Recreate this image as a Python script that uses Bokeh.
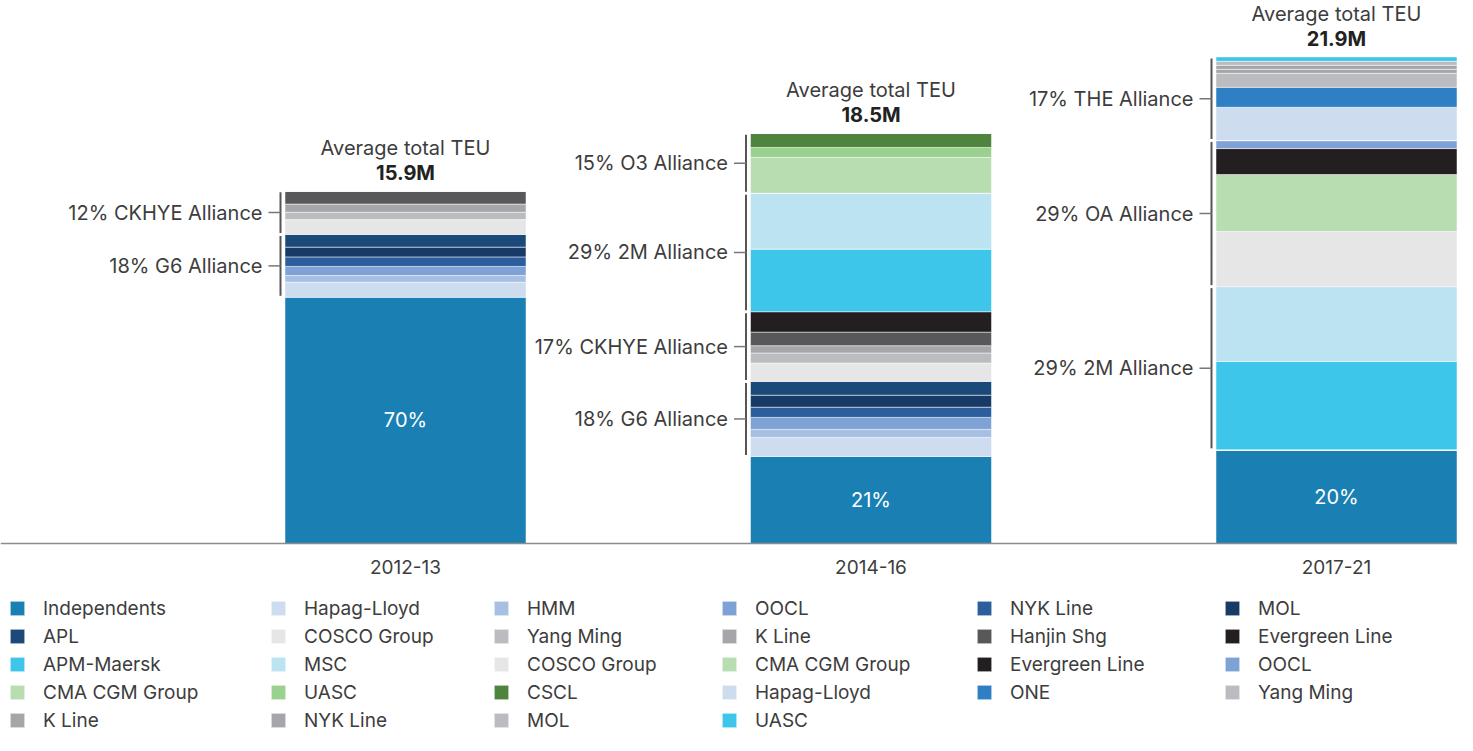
import numpy as np
from bokeh.plotting import figure
from bokeh.models import ColumnDataSource, Range1d, FixedTicker, Legend, LegendItem
from bokeh.core.properties import value
from bokeh.embed import file_html
from bokeh.resources import INLINE

# ---------------- data (million TEU) ----------------
periods = ["2012-13", "2014-16", "2017-21"]
total_labels = ["15.9M", "18.5M", "21.9M"]
independent_labels = ["70%", "21%", "20%"]

independents = [11.09, 3.92, 4.22]
# G6 Alliance
g6_hapag = [0.68, 0.86, 0.0]
g6_hmm = [0.30, 0.36, 0.0]
g6_oocl = [0.41, 0.54, 0.0]
g6_nyk = [0.43, 0.46, 0.0]
g6_mol = [0.44, 0.54, 0.0]
g6_apl = [0.57, 0.62, 0.0]
# CKHYE Alliance
ck_cosco = [0.67, 0.83, 0.0]
ck_yangming = [0.33, 0.45, 0.0]
ck_kline = [0.37, 0.33, 0.0]
ck_hanjin = [0.60, 0.61, 0.0]
ck_evergreen = [0.0, 0.92, 0.0]
# 2M Alliance
m2_maersk = [0.0, 2.82, 3.98]
m2_msc = [0.0, 2.52, 3.37]
# OA Alliance
oa_cosco = [0.0, 0.0, 2.48]
oa_cma = [0.0, 0.0, 2.57]
oa_evergreen = [0.0, 0.0, 1.17]
oa_oocl = [0.0, 0.0, 0.36]
# O3 Alliance
o3_cma = [0.0, 1.61, 0.0]
o3_uasc = [0.0, 0.45, 0.0]
o3_cscl = [0.0, 0.64, 0.0]
# THE Alliance
the_hapag = [0.0, 0.0, 1.50]
the_one = [0.0, 0.0, 0.90]
the_yangming = [0.0, 0.0, 0.63]
the_kline = [0.0, 0.0, 0.18]
the_nyk = [0.0, 0.0, 0.18]
the_mol = [0.0, 0.0, 0.18]
the_uasc = [0.0, 0.0, 0.20]

series_names = ["Independents", "Hapag-Lloyd", "HMM", "OOCL", "NYK Line", "MOL", "APL",
                "COSCO Group", "Yang Ming", "K Line", "Hanjin Shg", "Evergreen Line",
                "APM-Maersk", "MSC",
                "COSCO Group", "CMA CGM Group", "Evergreen Line", "OOCL",
                "CMA CGM Group", "UASC", "CSCL",
                "Hapag-Lloyd", "ONE", "Yang Ming", "K Line", "NYK Line", "MOL", "UASC"]
series_groups = (["Independents"] + ["G6"] * 6 + ["CKHYE"] * 5 + ["2M"] * 2 +
                 ["OA"] * 4 + ["O3"] * 3 + ["THE"] * 7)
series_values = [independents, g6_hapag, g6_hmm, g6_oocl, g6_nyk, g6_mol, g6_apl,
                 ck_cosco, ck_yangming, ck_kline, ck_hanjin, ck_evergreen,
                 m2_maersk, m2_msc,
                 oa_cosco, oa_cma, oa_evergreen, oa_oocl,
                 o3_cma, o3_uasc, o3_cscl,
                 the_hapag, the_one, the_yangming, the_kline, the_nyk, the_mol, the_uasc]

alliance_period = [0, 0, 1, 1, 1, 1, 2, 2, 2]
alliance_group = ["CKHYE", "G6", "O3", "2M", "CKHYE", "G6", "THE", "OA", "2M"]
alliance_text = ["12% CKHYE Alliance", "18% G6 Alliance",
                 "15% O3 Alliance", "29% 2M Alliance", "17% CKHYE Alliance", "18% G6 Alliance",
                 "17% THE Alliance", "29% OA Alliance", "29% 2M Alliance"]

# ---------------- styles ----------------
colors = ["#1a80b4", "#cddcef", "#a6bfe3", "#7ea2d6", "#2c5e9e", "#173a66", "#1b4a7a",
          "#e6e6e6", "#bbbcbf", "#a5a6a9", "#58585a", "#231f20",
          "#3ec5ea", "#bce3f1",
          "#e6e6e6", "#b8ddb1", "#231f20", "#7ea2d6",
          "#b8ddb1", "#9bd18f", "#4f843e",
          "#cddcef", "#2e7fc3", "#bbbcbf", "#a5a6a9", "#a5a6a9", "#bbbcbf", "#3ec5ea"]

FONT_NAME = "Inter"
FONT = value(FONT_NAME)
TXT = "#3d3d3d"
W, H = 1457, 735
PX_PER_X = 465.5      # pixels per category step
PX_PER_Y = 22.2       # pixels per million TEU
X0 = 405              # pixel of first category centre
BASE = 543            # pixel row of baseline (from top)
DX = 1.0 / PX_PER_X
DY = 1.0 / PX_PER_Y
BAR_W = 241 * DX

p = figure(width=W, height=H, output_backend="svg", toolbar_location=None,
           x_range=Range1d(-X0 * DX, (W - X0) * DX),
           y_range=Range1d(-(H - BASE) * DY, BASE * DY),
           min_border=0, outline_line_color=None)
p.title.visible = False
p.grid.visible = False
p.yaxis.visible = False

xs = list(range(len(periods)))
data = {"x": xs}
keys = []
for i, vals in enumerate(series_values):
    k = f"s{i}"
    keys.append(k)
    data[k] = vals
src = ColumnDataSource(data)

renderers = p.vbar_stack(keys, x="x", width=BAR_W, source=src,
                         fill_color=colors, line_color="white", line_width=0.5)

arr = np.array(series_values)
cum = np.cumsum(arr, axis=0)
totals = cum[-1]

# x axis with category names
ax = p.xaxis[0]
ax.fixed_location = 0
ax.ticker = FixedTicker(ticks=xs)
ax.major_label_overrides = {i: periods[i] for i in xs}
ax.major_tick_out = 0
ax.major_tick_in = 0
ax.minor_tick_out = 0
ax.minor_tick_in = 0
ax.axis_line_color = "#8c8c8c"
ax.axis_line_width = 1.5
ax.major_label_standoff = 16
ax.major_label_text_font = FONT_NAME
ax.major_label_text_font_size = "19px"
ax.major_label_text_color = TXT

# titles above bars
p.text(x=xs, y=list(totals), text=["Average total TEU"] * len(xs), y_offset=-43,
       text_align="center", text_baseline="middle", text_font=FONT,
       text_font_size="20px", text_color=TXT)
p.text(x=xs, y=list(totals), text=total_labels, y_offset=-18,
       text_align="center", text_baseline="middle", text_font=FONT,
       text_font_size="20px", text_font_style="bold", text_color="#222222")

# independents share labels
p.text(x=xs, y=[v / 2 for v in independents], text=independent_labels,
       text_align="center", text_baseline="middle", text_font=FONT,
       text_font_size="20px", text_color="white")

# alliance brackets
bx, b0, b1, mids, tx0 = [], [], [], [], []
for k, g in zip(alliance_period, alliance_group):
    idx = [i for i in range(len(series_groups)) if series_groups[i] == g]
    bottom = cum[idx[0] - 1, k]
    top = cum[idx[-1], k]
    x_line = k - BAR_W / 2 - 4.5 * DX
    bx.append(x_line)
    b0.append(bottom + 1.5 * DY)
    b1.append(top - 1.5 * DY)
    mids.append((bottom + top) / 2)
    tx0.append(x_line - 12 * DX)

p.segment(x0=bx, y0=b0, x1=bx, y1=b1, line_color="#555555", line_width=2)
p.segment(x0=tx0, y0=mids, x1=bx, y1=mids, line_color="#777777", line_width=1.5)
p.text(x=tx0, y=mids, text=alliance_text, x_offset=-6, text_align="right",
       text_baseline="middle", text_font=FONT, text_font_size="20px", text_color=TXT)

# legend: six columns
col_x = [8, 269, 492, 720, 975, 1223]
ncols = 6
pitch = 28
item_h = 23
for c in range(ncols):
    idxs = list(range(c, len(series_names), ncols))
    items = [LegendItem(label=series_names[i], renderers=[renderers[i]]) for i in idxs]
    nrows = len(idxs)
    bottom_center = 15 + (5 - nrows) * pitch
    leg = Legend(items=items, location=(col_x[c], bottom_center - item_h / 2),
                 orientation="vertical", glyph_width=18, glyph_height=18,
                 label_height=item_h, label_standoff=17, spacing=pitch - item_h,
                 padding=0, margin=0, border_line_color=None,
                 background_fill_alpha=0, label_text_font=FONT_NAME,
                 label_text_font_size="19px", label_text_color=TXT)
    p.add_layout(leg)

open("out.html", "w").write(file_html(p, INLINE))
